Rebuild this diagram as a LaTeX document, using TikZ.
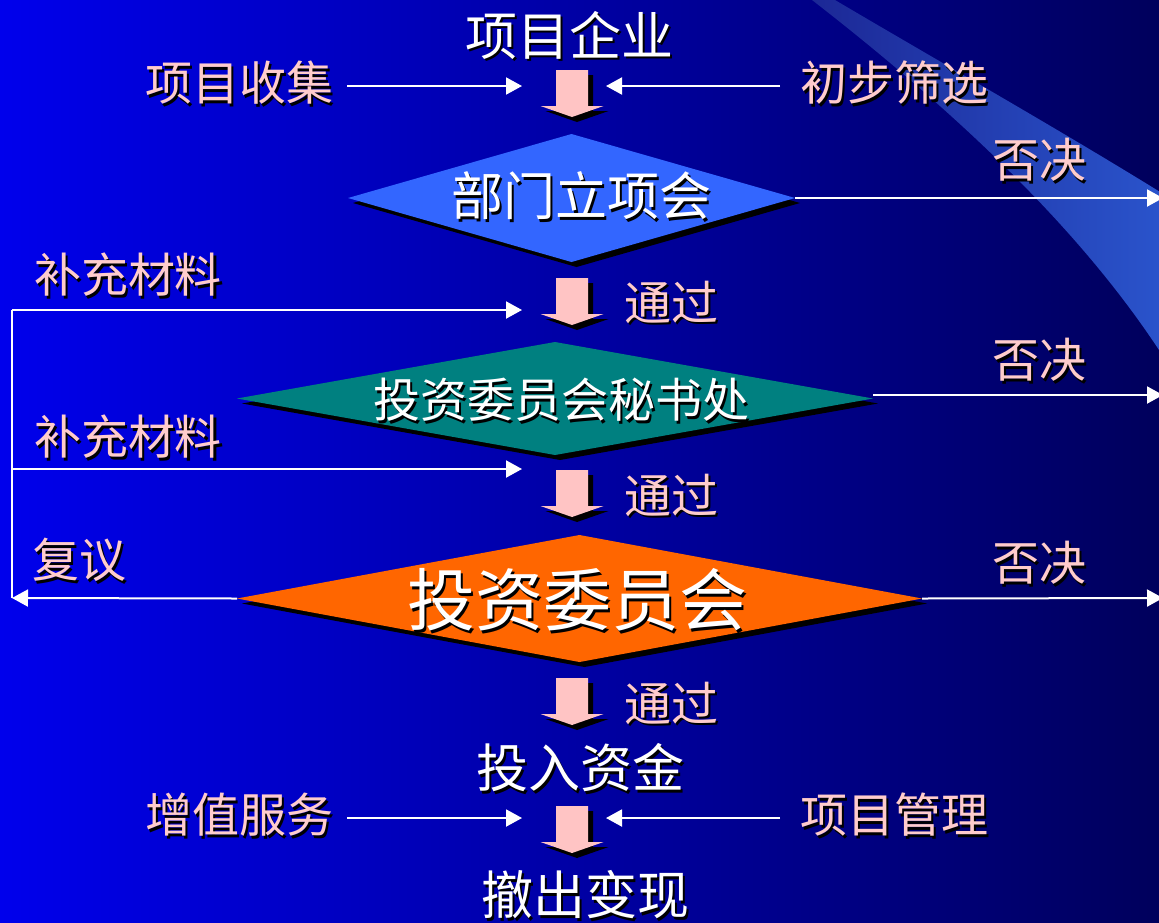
\documentclass[tikz,border=0pt]{standalone}
\usepackage{fontspec}
\newfontfamily\cjk{Noto Sans CJK SC}
\usetikzlibrary{arrows.meta,shapes.geometric,shadows}
\definecolor{bgl}{RGB}{0,0,236}
\definecolor{bgr}{RGB}{0,0,92}
\definecolor{swl}{RGB}{28,40,150}
\definecolor{swr}{RGB}{42,84,204}
\definecolor{pinktxt}{RGB}{255,204,204}
\definecolor{arrpink}{RGB}{255,196,196}
\definecolor{dblue}{RGB}{51,102,255}
\definecolor{dteal}{RGB}{0,128,128}
\definecolor{dorange}{RGB}{255,102,0}
\newcommand{\stext}[5]{%
  \node[#4] (#1) at (#2,#3) {\makebox[0pt][l]{\hspace*{2.5pt}\raisebox{-2.5pt}[0pt][0pt]{\color{black}#5}}#5};
}
\tikzset{
  lbl/.style={font=\cjk\fontsize{47}{47}\selectfont, inner sep=0pt, text=pinktxt},
  ttl/.style={font=\cjk\fontsize{52}{52}\selectfont, inner sep=0pt, text=white},
  dtxt/.style={font=\cjk\fontsize{#1}{#1}\selectfont, inner sep=0pt, text=white},
  dia/.style={diamond, inner sep=0pt, outer sep=0pt, fill=#1,
    drop shadow={shadow xshift=5pt, shadow yshift=-5pt, opacity=1, fill=black}},
  wline/.style={white, line width=2pt},
  warr/.style={wline, -{Triangle[length=16pt,width=17pt]}},
  blockarrow/.pic={\fill (-16,0) -- (16,0) -- (16,36) -- (31.5,36) -- (0,47) -- (-31.5,36) -- (-16,36) -- cycle;}
}
\begin{document}
\begin{tikzpicture}[x=1pt,y=-1pt]
\useasboundingbox (0,0) rectangle (1159,922);
\shade[left color=bgl, right color=bgr] (0,0) rectangle (1159,922);
% decorative swoosh
\shade[left color=swl, right color=swr] (812,0) -- (835,0) .. controls (940,62) and (1060,130) .. (1165,195) -- (1165,360) -- (1159,350) .. controls (1080,230) and (960,115) .. (812,0) -- cycle;

% block arrows
\foreach \yy [count=\i] in {70,278,470,678,806} {
  \pic[black] at (577,\yy+5) {blockarrow};
  \pic[arrpink] (ba\i) at (572,\yy) {blockarrow};
}

% diamonds
\node[dia=dblue, minimum width=447pt, minimum height=128pt] (d1) at (571.5,198) {};
\node[dia=dteal, minimum width=636pt, minimum height=113pt] (d2) at (555,398.5) {};
\node[dia=dorange, minimum width=685pt, minimum height=127pt] (d3) at (579.5,598.5) {};

% texts
\stext{t1}{569}{35}{ttl}{项目企业}
\stext{c1}{239}{83}{lbl}{项目收集}
\stext{c2}{894}{83}{lbl}{初步筛选}
\stext{d1t}{581}{196}{dtxt=52}{部门立项会}
\stext{r1}{1039}{160}{lbl}{否决}
\stext{s1}{128}{275}{lbl}{补充材料}
\stext{p1}{671}{302}{lbl}{通过}
\stext{d2t}{561}{400}{dtxt=47}{投资委员会秘书处}
\stext{r2}{1039}{360}{lbl}{否决}
\stext{s2}{128}{437}{lbl}{补充材料}
\stext{p2}{671}{495}{lbl}{通过}
\stext{d3t}{577}{600}{dtxt=68}{投资委员会}
\stext{fy}{79}{560}{lbl}{复议}
\stext{r3}{1039}{563}{lbl}{否决}
\stext{p3}{671}{703}{lbl}{通过}
\stext{t2}{580}{768}{ttl}{投入资金}
\stext{c3}{239}{815}{lbl}{增值服务}
\stext{c4}{894}{815}{lbl}{项目管理}
\stext{t3}{585}{895}{ttl}{撤出变现}

% connector end points
\coordinate (a1) at (347,86);  \coordinate (a1e) at (522,86);
\coordinate (b1) at (780,86);  \coordinate (b1e) at (606,86);
\coordinate (a2) at (347,818); \coordinate (a2e) at (522,818);
\coordinate (b2) at (780,818); \coordinate (b2e) at (606,818);
\coordinate (rx1) at (1163,198);
\coordinate (rx2) at (1163,395);
\coordinate (rx3) at (1163,598);
\coordinate (fb) at (12,598);
\coordinate (fbt) at (12,310);
\coordinate (fbm) at (12,469);
\coordinate (in1) at (522,310);
\coordinate (in2) at (522,469);

% connectors
\draw[warr] (a1) -- (a1e);
\draw[warr] (b1) -- (b1e);
\draw[warr] (a2) -- (a2e);
\draw[warr] (b2) -- (b2e);
\draw[warr] (d1.east) -- (rx1);
\draw[warr] (d2.east |- rx2) -- (rx2);
\draw[warr] (d3.east) -- (rx3);
\draw[warr] (d3.west) -- (fb);
\draw[wline] (fb) -- (fbt);
\draw[warr] (fbt) -- (in1);
\draw[warr] (fbm) -- (in2);
\end{tikzpicture}
\end{document}
